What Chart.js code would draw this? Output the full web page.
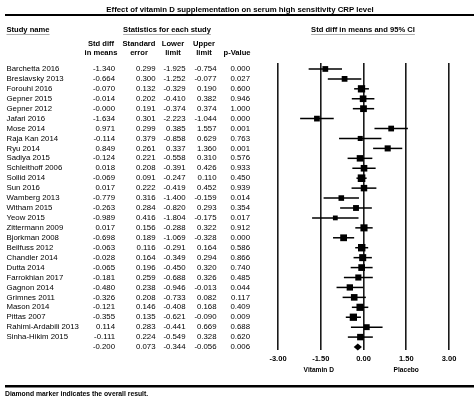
<!DOCTYPE html>
<html>
<head>
<meta charset="utf-8">
<script src="https://cdn.jsdelivr.net/npm/chart.js@4.4.0/dist/chart.umd.min.js"></script>
<style>
body { margin: 0; background: #fff; }
#wrap { width: 474px; height: 398px; position: relative; }
</style>
</head>
<body>
<div id="wrap"><canvas id="forest"></canvas></div>
<script>
// study rows, top to bottom
var studies = ["Barchetta 2016", "Breslavsky 2013", "Forouhi 2016", "Gepner 2015", "Gepner 2012",
	"Jafari 2016", "Mose 2014", "Raja Kan 2014", "Ryu 2014", "Sadiya 2015", "Schleithoff 2006",
	"Sollid 2014", "Sun 2016", "Wamberg 2013", "Witham 2015", "Yeow 2015", "Zittermann 2009",
	"Bjorkman 2008", "Beilfuss 2012", "Chandler 2014", "Dutta 2014", "Farrokhian 2017",
	"Gagnon 2014", "Grimnes 2011", "Mason 2014", "Pittas 2007", "Rahimi-Ardabili 2013", "Sinha-Hikim 2015"];
var stdDiff = [-1.340, -0.664, -0.070, -0.014, -0.000, -1.634, 0.971, -0.114, 0.849, -0.124, 0.018,
	-0.069, 0.017, -0.779, -0.263, -0.989, 0.017, -0.698, -0.063, -0.028, -0.065, -0.181,
	-0.480, -0.326, -0.121, -0.355, 0.114, -0.111];
var stdErr = [0.299, 0.300, 0.132, 0.202, 0.191, 0.301, 0.299, 0.379, 0.261, 0.221, 0.208,
	0.091, 0.222, 0.316, 0.284, 0.416, 0.156, 0.189, 0.116, 0.164, 0.196, 0.259,
	0.238, 0.208, 0.146, 0.135, 0.283, 0.224];
var lower = [-1.925, -1.252, -0.329, -0.410, -0.374, -2.223, 0.385, -0.858, 0.337, -0.558, -0.391,
	-0.247, -0.419, -1.400, -0.820, -1.804, -0.288, -1.069, -0.291, -0.349, -0.450, -0.688,
	-0.946, -0.733, -0.408, -0.621, -0.441, -0.549];
var upper = [-0.754, -0.077, 0.190, 0.382, 0.374, -1.044, 1.557, 0.629, 1.360, 0.310, 0.426,
	0.110, 0.452, -0.159, 0.293, -0.175, 0.322, -0.328, 0.164, 0.294, 0.320, 0.326,
	-0.013, 0.082, 0.168, -0.090, 0.669, 0.328];
var pValue = [0.000, 0.027, 0.600, 0.946, 1.000, 0.000, 0.001, 0.763, 0.001, 0.576, 0.933,
	0.450, 0.939, 0.014, 0.354, 0.017, 0.912, 0.000, 0.586, 0.866, 0.740, 0.485,
	0.044, 0.117, 0.409, 0.009, 0.688, 0.620];
// overall: std diff, se, lower, upper, p
var overall = [-0.200, 0.073, -0.344, -0.056, 0.006];
var xTicks = [-3, -1.5, 0, 1.5, 3];

var FONT = '"Liberation Sans", Arial, sans-serif';

function fmt(v)
{
	var neg = v < 0 || Object.is(v, -0);
	return (neg ? "-" : "") + Math.abs(v).toFixed(3);
}

// marker size from random-effects style weight
var tau2 = 0.1;
var weights = stdErr.map(function(se) { return 1 / (se * se + tau2); });
var wMax = Math.max.apply(null, weights);
var radii = weights.map(function(w) { return 7.6 * Math.sqrt(w / wMax) / Math.SQRT2; });

var points = stdDiff.map(function(v, i) { return { x: v, y: i }; });

var forestPlugin = {
	id: 'forest',
	beforeDatasetsDraw: function(chart) {
		var ctx = chart.ctx;
		var xs = chart.scales.x, ys = chart.scales.y;
		ctx.save();
		ctx.strokeStyle = "#000";
		ctx.lineWidth = 1.5;
		for (var i = 0; i < studies.length; i++) {
			var y = ys.getPixelForValue(i);
			ctx.beginPath();
			ctx.moveTo(xs.getPixelForValue(lower[i]), y);
			ctx.lineTo(xs.getPixelForValue(upper[i]), y);
			ctx.stroke();
		}
		// diamond
		var yo = ys.getPixelForValue(studies.length);
		ctx.fillStyle = "#000";
		ctx.beginPath();
		ctx.moveTo(xs.getPixelForValue(overall[2]), yo);
		ctx.lineTo(xs.getPixelForValue(overall[0]), yo - 3.4);
		ctx.lineTo(xs.getPixelForValue(overall[3]), yo);
		ctx.lineTo(xs.getPixelForValue(overall[0]), yo + 3.4);
		ctx.closePath();
		ctx.fill();
		ctx.restore();
	},
	afterDraw: function(chart) {
		var ctx = chart.ctx;
		var xs = chart.scales.x, ys = chart.scales.y;
		ctx.save();
		ctx.fillStyle = "#000";

		// title + rules
		ctx.font = "bold 7.8px " + FONT;
		ctx.textAlign = "center";
		ctx.textBaseline = "middle";
		ctx.fillText("Effect of vitamin D supplementation on serum high sensitivity CRP level", 240, 9.5);
		ctx.fillRect(5, 14, 469, 2);
		ctx.fillRect(5, 385, 469, 2.5);

		// headers
		ctx.font = "bold 7.6px " + FONT;
		ctx.textAlign = "left";
		ctx.fillText("Study name", 6.5, 30);
		ctx.textAlign = "center";
		ctx.fillText("Statistics for each study", 167, 30);
		ctx.fillText("Std diff in means and 95% CI", 363, 30);
		ctx.fillStyle = "#999";
		var w1 = ctx.measureText("Study name").width;
		var w2 = ctx.measureText("Statistics for each study").width;
		var w3 = ctx.measureText("Std diff in means and 95% CI").width;
		ctx.fillRect(6.5, 34, w1, 0.8);
		ctx.fillRect(167 - w2 / 2, 34, w2, 0.8);
		ctx.fillRect(363 - w3 / 2, 34, w3, 0.8);
		ctx.fillStyle = "#000";
		ctx.fillText("Std diff", 101, 44);
		ctx.fillText("in means", 101, 53);
		ctx.fillText("Standard", 139, 44);
		ctx.fillText("error", 139, 53);
		ctx.fillText("Lower", 173, 44);
		ctx.fillText("limit", 173, 53);
		ctx.fillText("Upper", 204, 44);
		ctx.fillText("limit", 204, 53);
		ctx.fillText("p-Value", 237, 53);

		// table rows
		ctx.font = "7.8px " + FONT;
		var n = studies.length;
		for (var i = 0; i <= n; i++) {
			var y = ys.getPixelForValue(i);
			var row = i < n ? [stdDiff[i], stdErr[i], lower[i], upper[i], pValue[i]] : overall;
			if (i < n) {
				ctx.textAlign = "left";
				ctx.fillText(studies[i], 6.5, y);
			}
			ctx.textAlign = "right";
			ctx.fillText(fmt(row[0]), 115, y);
			ctx.fillText(fmt(row[1]), 155.5, y);
			ctx.fillText(fmt(row[2]), 185.5, y);
			ctx.fillText(fmt(row[3]), 216.5, y);
			ctx.fillText(fmt(row[4]), 250, y);
		}

		// side labels
		ctx.font = "bold 6.6px " + FONT;
		ctx.textAlign = "center";
		ctx.fillText("Vitamin D", xs.getPixelForValue(-1.5) - 2, 370.5);
		ctx.fillText("Placebo", xs.getPixelForValue(1.5), 370.5);

		// footnote
		ctx.font = "bold 6.8px " + FONT;
		ctx.textAlign = "left";
		ctx.fillText("Diamond marker indicates the overall result.", 5, 394.5);
		ctx.restore();
	}
};

var ctx = document.getElementById("forest").getContext('2d');
var forestChart = new Chart(ctx, {
	type: 'scatter',
	data: {
		datasets: [{
			data: points,
			pointStyle: 'rect',
			pointRadius: radii,
			backgroundColor: "#000",
			borderColor: "#000",
			borderWidth: 0
		}]
	},
	options: {
		responsive: true,
		maintainAspectRatio: false,
		animation: false,
		events: [],
		layout: { padding: { left: 278, right: 25, top: 63, bottom: 26 } },
		plugins: { legend: { display: false }, tooltip: { enabled: false } },
		scales: {
			x: {
				type: 'linear',
				min: -3,
				max: 3,
				afterBuildTicks: function(scale) {
					scale.ticks = xTicks.map(function(v) { return { value: v }; });
				},
				afterFit: function(scale) { scale.height = 22; },
				border: { display: false },
				grid: { color: "#1a1a1a", lineWidth: 1.6, drawTicks: false },
				ticks: {
					padding: 4,
					color: "#000",
					font: { family: FONT, size: 7.5, weight: 'bold' },
					callback: function(v) { return Number(v).toFixed(2); }
				}
			},
			y: {
				type: 'linear',
				reverse: true,
				min: -0.6,
				max: 28.3,
				display: false
			}
		}
	},
	plugins: [forestPlugin]
});
</script>
</body>
</html>
